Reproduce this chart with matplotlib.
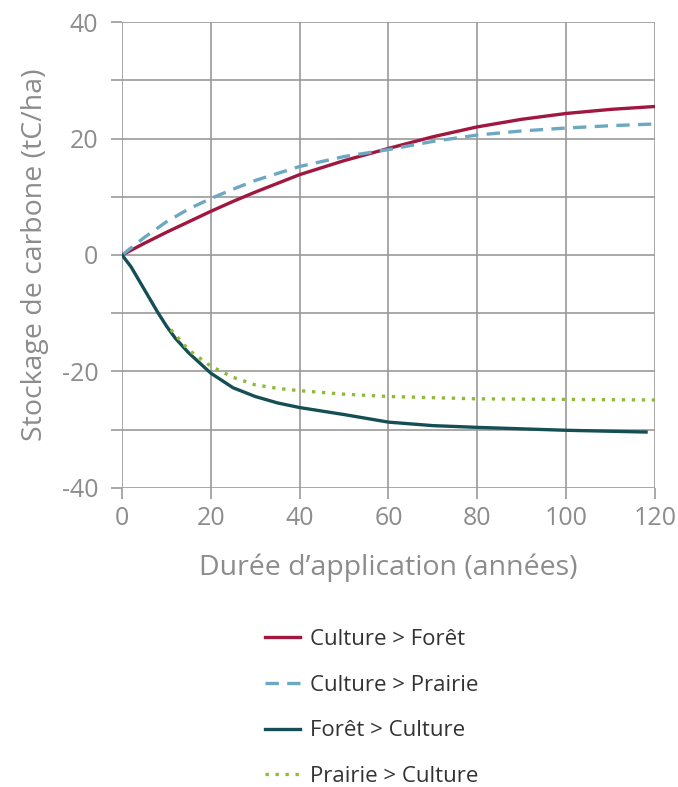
import matplotlib
matplotlib.use('Agg')
import matplotlib.pyplot as plt
from matplotlib.ticker import FuncFormatter, MultipleLocator

# Data (years, tC/ha)
years_cf = [0, 5, 10, 15, 20, 25, 30, 40, 50, 60, 70, 80, 90, 100, 110, 120]
culture_foret = [0, 2.0, 3.9, 5.7, 7.5, 9.2, 10.8, 13.8, 16.2, 18.3, 20.3, 22.0, 23.3, 24.3, 25.0, 25.5]

years_cp = [0, 5, 10, 15, 20, 25, 30, 40, 50, 60, 70, 80, 90, 100, 110, 120]
culture_prairie = [0, 3.0, 5.7, 7.9, 9.7, 11.3, 12.8, 15.2, 16.9, 18.1, 19.5, 20.6, 21.3, 21.8, 22.2, 22.5]

years_fc = [0, 2, 4, 6, 8, 10, 12, 15, 20, 25, 30, 35, 40, 50, 60, 70, 80, 100, 118]
foret_culture = [0, -2.0, -4.6, -7.2, -9.8, -12.2, -14.3, -16.8, -20.3, -22.8, -24.3, -25.4, -26.2,
                 -27.4, -28.7, -29.3, -29.6, -30.1, -30.4]

years_pc = [11, 15, 20, 25, 30, 35, 40, 50, 60, 70, 80, 100, 120]
prairie_culture = [-12.8, -16.3, -19.1, -21.0, -22.3, -22.9, -23.3, -23.9, -24.3, -24.5, -24.7, -24.8, -24.9]

series = [
    ('Culture > Forêt', years_cf, culture_foret, '#a0173f', '-'),
    ('Culture > Prairie', years_cp, culture_prairie, '#6da8c2', (0, (4, 2.5))),
    ('Forêt > Culture', years_fc, foret_culture, '#154f55', '-'),
    ('Prairie > Culture', years_pc, prairie_culture, '#8fbb3c', (0, (1, 2))),
]

plt.rcParams['font.family'] = ['Open Sans', 'DejaVu Sans']

fig = plt.figure(figsize=(6.78, 7.87), dpi=100)
ax = fig.add_axes([0.180, 0.380, 0.786, 0.592])

for label, xs, ys, color, ls in series:
    ax.plot(xs, ys, color=color, linestyle=ls, linewidth=2.4, label=label, zorder=3)

ax.set_xlim(0, 120)
ax.set_ylim(-40, 40)
ax.xaxis.set_major_locator(MultipleLocator(20))
ax.yaxis.set_major_locator(MultipleLocator(10))
ax.yaxis.set_major_formatter(FuncFormatter(lambda v, p: f'{int(v)}' if int(v) % 20 == 0 else ''))

ax.grid(True, color='#9a9a9a', linewidth=1.2, zorder=1)
for s in ax.spines.values():
    s.set_visible(False)

grey = '#8c8c8c'
ax.tick_params(axis='both', colors='#9a9a9a', length=8, width=1.2, labelcolor=grey, labelsize=18)
ax.tick_params(axis='x', pad=5)
ax.tick_params(axis='y', pad=9)

ax.set_xlabel('Durée d’application (années)', fontsize=20.5, color=grey, labelpad=16)
ax.set_ylabel('Stockage de carbone (tC/ha)', fontsize=20.5, color=grey, labelpad=9)

handles, labels = ax.get_legend_handles_labels()
fig.legend(handles, labels, loc='upper left', bbox_to_anchor=(0.361, 0.226),
           frameon=False, fontsize=16, labelcolor='#333333',
           handlelength=1.6, handletextpad=0.45, labelspacing=1.11)

fig.savefig('out.png', dpi=100, facecolor='white')
